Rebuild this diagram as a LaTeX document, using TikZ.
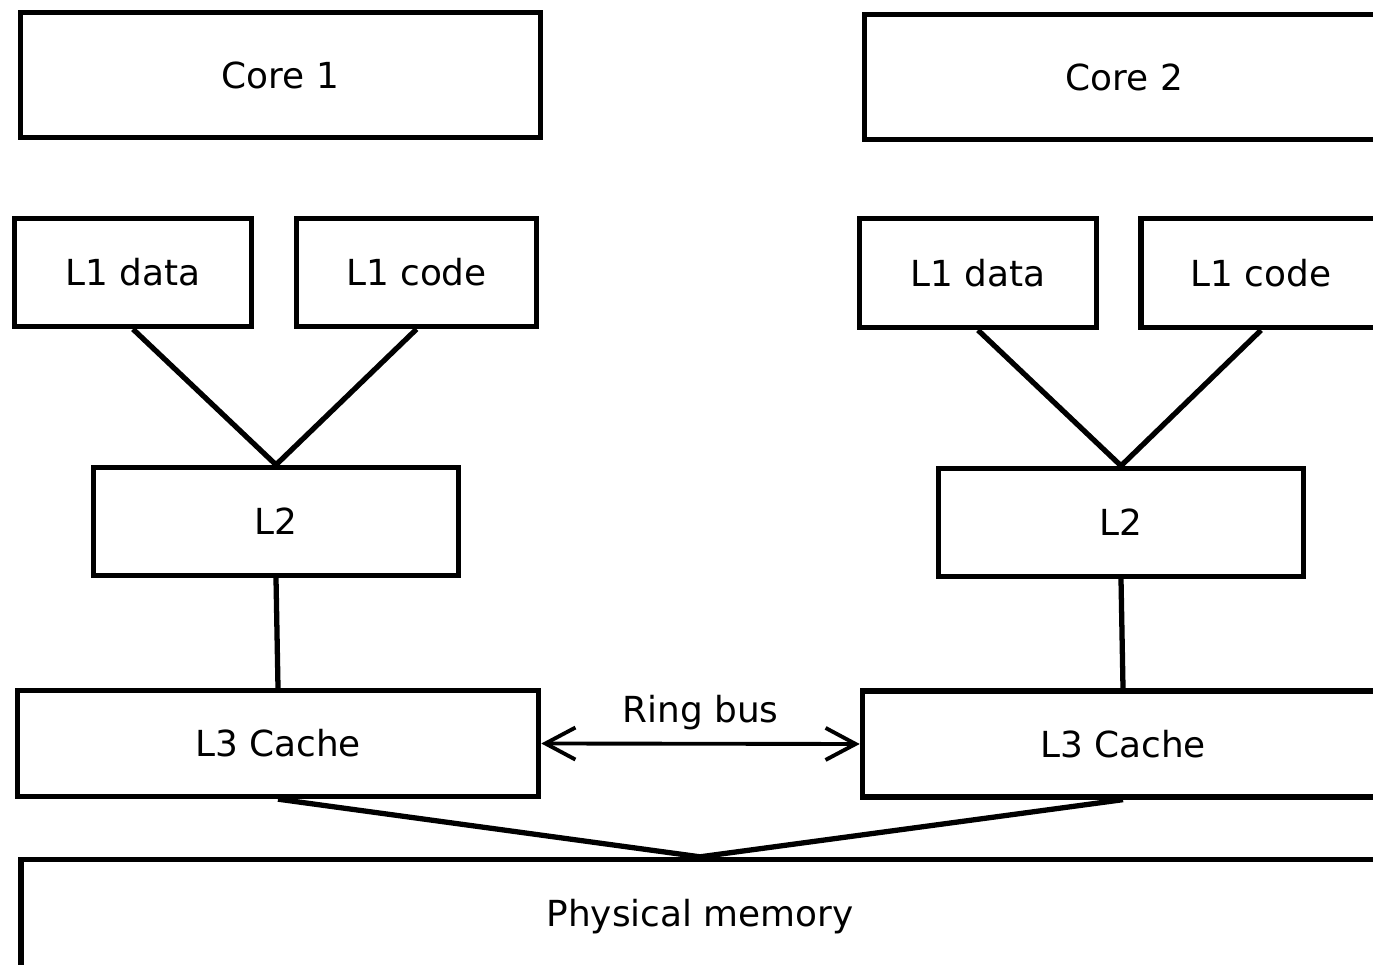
\documentclass[tikz,border=0pt]{standalone}
\usepackage{fontspec}
\setmainfont{DejaVu Sans}
\usetikzlibrary{arrows.meta}
\begin{document}
\begin{tikzpicture}[x=0.01cm, y=-0.01cm, font=\fontsize{10.2pt}{12pt}\selectfont,
    cachebox/.style={draw, line width=1.5pt, inner sep=0pt},
    link/.style={line width=1.5pt},
    ringbus/.style={line width=1.1pt, {Straight Barb[length=0.3cm,width=0.32cm]}-{Straight Barb[length=0.3cm,width=0.32cm]}}]
    \clip (0,0) rectangle (1373,965);
    \node [cachebox, minimum width=5.2cm, minimum height=1.25cm] (core1) at (280.5,75) {Core 1};
    \node [cachebox, minimum width=5.2cm, minimum height=1.25cm] (core2) at (1124.5,77) {Core 2};
    \node [cachebox, minimum width=2.37cm, minimum height=1.08cm] (l1d1) at (133,272.5) {L1 data};
    \node [cachebox, minimum width=2.40cm, minimum height=1.08cm] (l1c1) at (416.5,272.5) {L1 code};
    \node [cachebox, minimum width=2.37cm, minimum height=1.09cm] (l1d2) at (978,273) {L1 data};
    \node [cachebox, minimum width=2.40cm, minimum height=1.09cm] (l1c2) at (1261,273) {L1 code};
    \node [cachebox, minimum width=3.65cm, minimum height=1.08cm] (l21) at (276,521.5) {L2};
    \node [cachebox, minimum width=3.65cm, minimum height=1.08cm] (l22) at (1121,522.5) {L2};
    \node [cachebox, minimum width=5.21cm, minimum height=1.06cm] (l31) at (278,743.5) {L3 Cache};
    \node [cachebox, minimum width=5.21cm, minimum height=1.06cm] (l32) at (1123,744) {L3 Cache};
    \node [cachebox, minimum width=13.57cm, minimum height=1.15cm] (mem) at (700,917) {Physical memory};
    \draw [link] (l1d1.south) -- (l21.north) -- (l1c1.south);
    \draw [link] (l1d2.south) -- (l22.north) -- (l1c2.south);
    \draw [link] (l21.south) -- (l31.north);
    \draw [link] (l22.south) -- (l32.north);
    \draw [link] (l31.south) -- (mem.north) -- (l32.south);
    \draw [ringbus] (l31.east) -- node [above=0cm] {Ring bus} (l32.west);
  \end{tikzpicture}
\end{document}
